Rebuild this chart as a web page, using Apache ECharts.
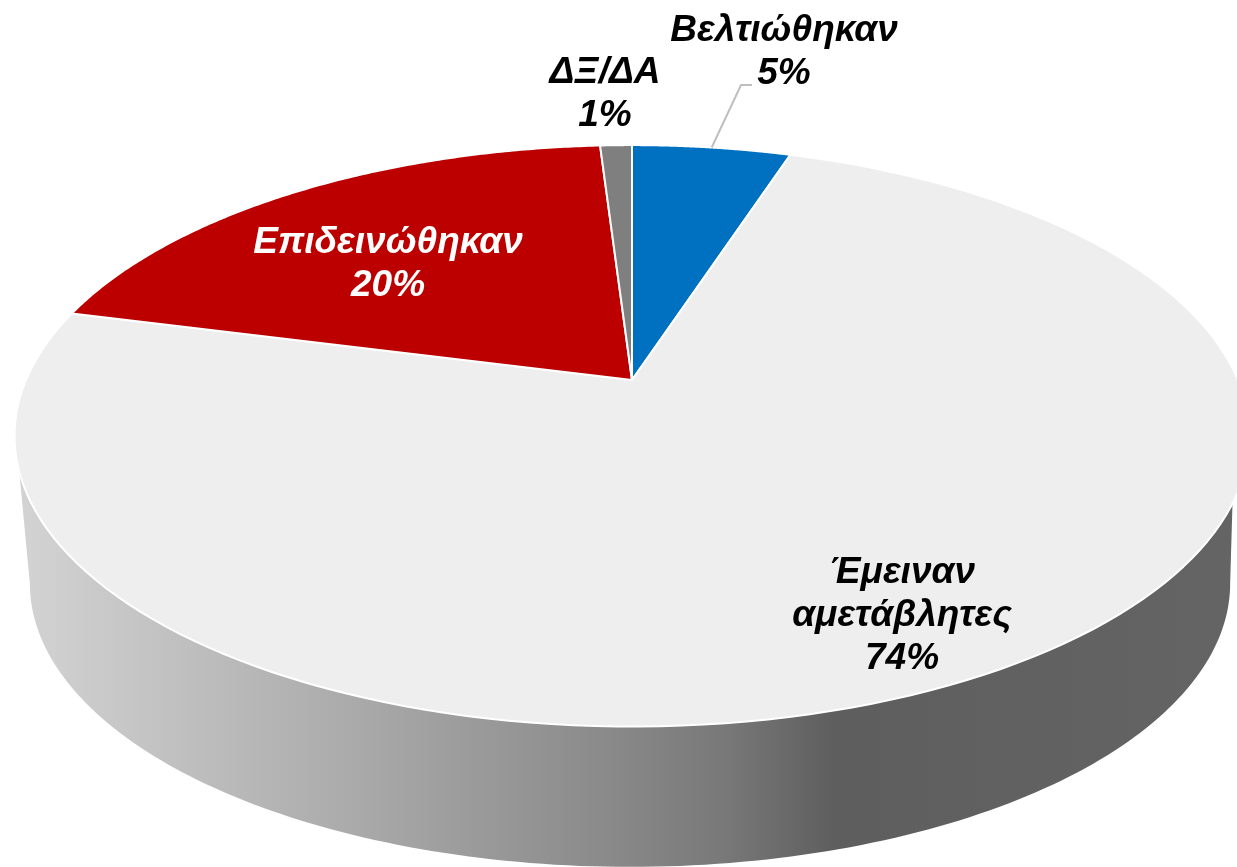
<!DOCTYPE html>
<html>
<head>
<meta charset="utf-8">
<style>
  html, body { margin: 0; padding: 0; background: #fff; }
  #main { width: 1237px; height: 867px; overflow: hidden; }
</style>
<script src="https://cdn.jsdelivr.net/npm/echarts@6/dist/echarts.min.js"></script>
</head>
<body>
<div id="main"></div>
<script>
// data, clockwise from 12 o'clock
var categories = ['Βελτιώθηκαν', 'Έμειναν\nαμετάβλητες', 'Επιδεινώθηκαν', 'ΔΞ/ΔΑ'];
var values = [5, 74, 20, 1];
var colors = ['#0070c0', '#eeeeee', '#bc0000', '#7f7f7f'];
var labelColors = ['#000', '#000', '#fff', '#000'];
var labelPos = [[784, 52], [902, 616], [388, 264], [605, 94]];

var total = values.reduce(function (a, b) { return a + b; }, 0);
var cumulative = [];
values.reduce(function (sum, v, i) { cumulative[i] = sum; return sum + v; }, 0);

// 把数值映射成角度
function toAngle(v) {
  return echarts.number.linearMap(v, [0, total], [0, Math.PI * 2]);
}

// perspective view of the disc, apex of the slices at cx,cy
var K = 0.192;
var rim = { cx: 632, cy: 380, a: 606, b: 280 };
var base = { cx: 630, cy: 529, a: 589, b: 273 };

function project(disc, angle) {
  var u = Math.sin(angle), v = -Math.cos(angle);
  var d = 1 - K * v;
  return [disc.cx + disc.a * u / d, disc.cy + disc.b * v / d];
}

function arc(disc, from, to) {
  var pts = [], n = 160;
  for (var i = 0; i <= n; i++) {
    pts.push(project(disc, from + (to - from) * i / n));
  }
  return pts;
}

var wallGradient = new echarts.graphic.LinearGradient(30, 0, 1231, 0, [
  { offset: 0, color: '#d2d2d2' },
  { offset: 0.23, color: '#b0b0b0' },
  { offset: 0.48, color: '#8a8a8a' },
  { offset: 0.58, color: '#787878' },
  { offset: 0.67, color: '#5e5e5e' },
  { offset: 1, color: '#646464' }
], true);

function renderSlice(params, api) {
  var i = params.dataIndex;
  var start = toAngle(cumulative[i]);
  var end = toAngle(cumulative[i] + values[i]);
  var children = [];

  if (i === 0) {
    // side wall of the disc, drawn once under the slices
    var rimArc = arc(rim, (252 * Math.PI) / 180, (114 * Math.PI) / 180);
    var baseArc = arc(base, (101 * Math.PI) / 180, (259 * Math.PI) / 180);
    children.push({
      type: 'polygon',
      shape: { points: rimArc.concat(baseArc) },
      style: { fill: wallGradient }
    });
  }

  children.push({
    type: 'polygon',
    z2: 5,
    shape: { points: [[rim.cx, rim.cy]].concat(arc(rim, start, end)) },
    style: { fill: colors[i], stroke: '#fff', lineWidth: 2, lineJoin: 'round' }
  });

  if (i === 0) {
    // leader line for the small slice label
    var m = project(rim, (start + end) / 2);
    children.push({
      type: 'polyline',
      z2: 6,
      shape: { points: [m, [741, 85], [752, 85]] },
      style: { fill: null, stroke: '#bfbfbf', lineWidth: 2 }
    });
  }

  children.push({
    type: 'text',
    z2: 10,
    x: labelPos[i][0],
    y: labelPos[i][1],
    style: {
      text: categories[i] + '\n' + values[i] + '%',
      fill: labelColors[i],
      font: 'italic bold 37px "Liberation Sans", Arial, sans-serif',
      lineHeight: 43,
      align: 'center',
      verticalAlign: 'middle'
    }
  });

  return { type: 'group', children: children };
}

var chart = echarts.init(document.getElementById('main'), null, { renderer: 'canvas' });
chart.setOption({
  backgroundColor: '#fff',
  animation: false,
  series: [{
    type: 'custom',
    coordinateSystem: 'none',
    renderItem: renderSlice,
    data: values
  }]
});
</script>
</body>
</html>
